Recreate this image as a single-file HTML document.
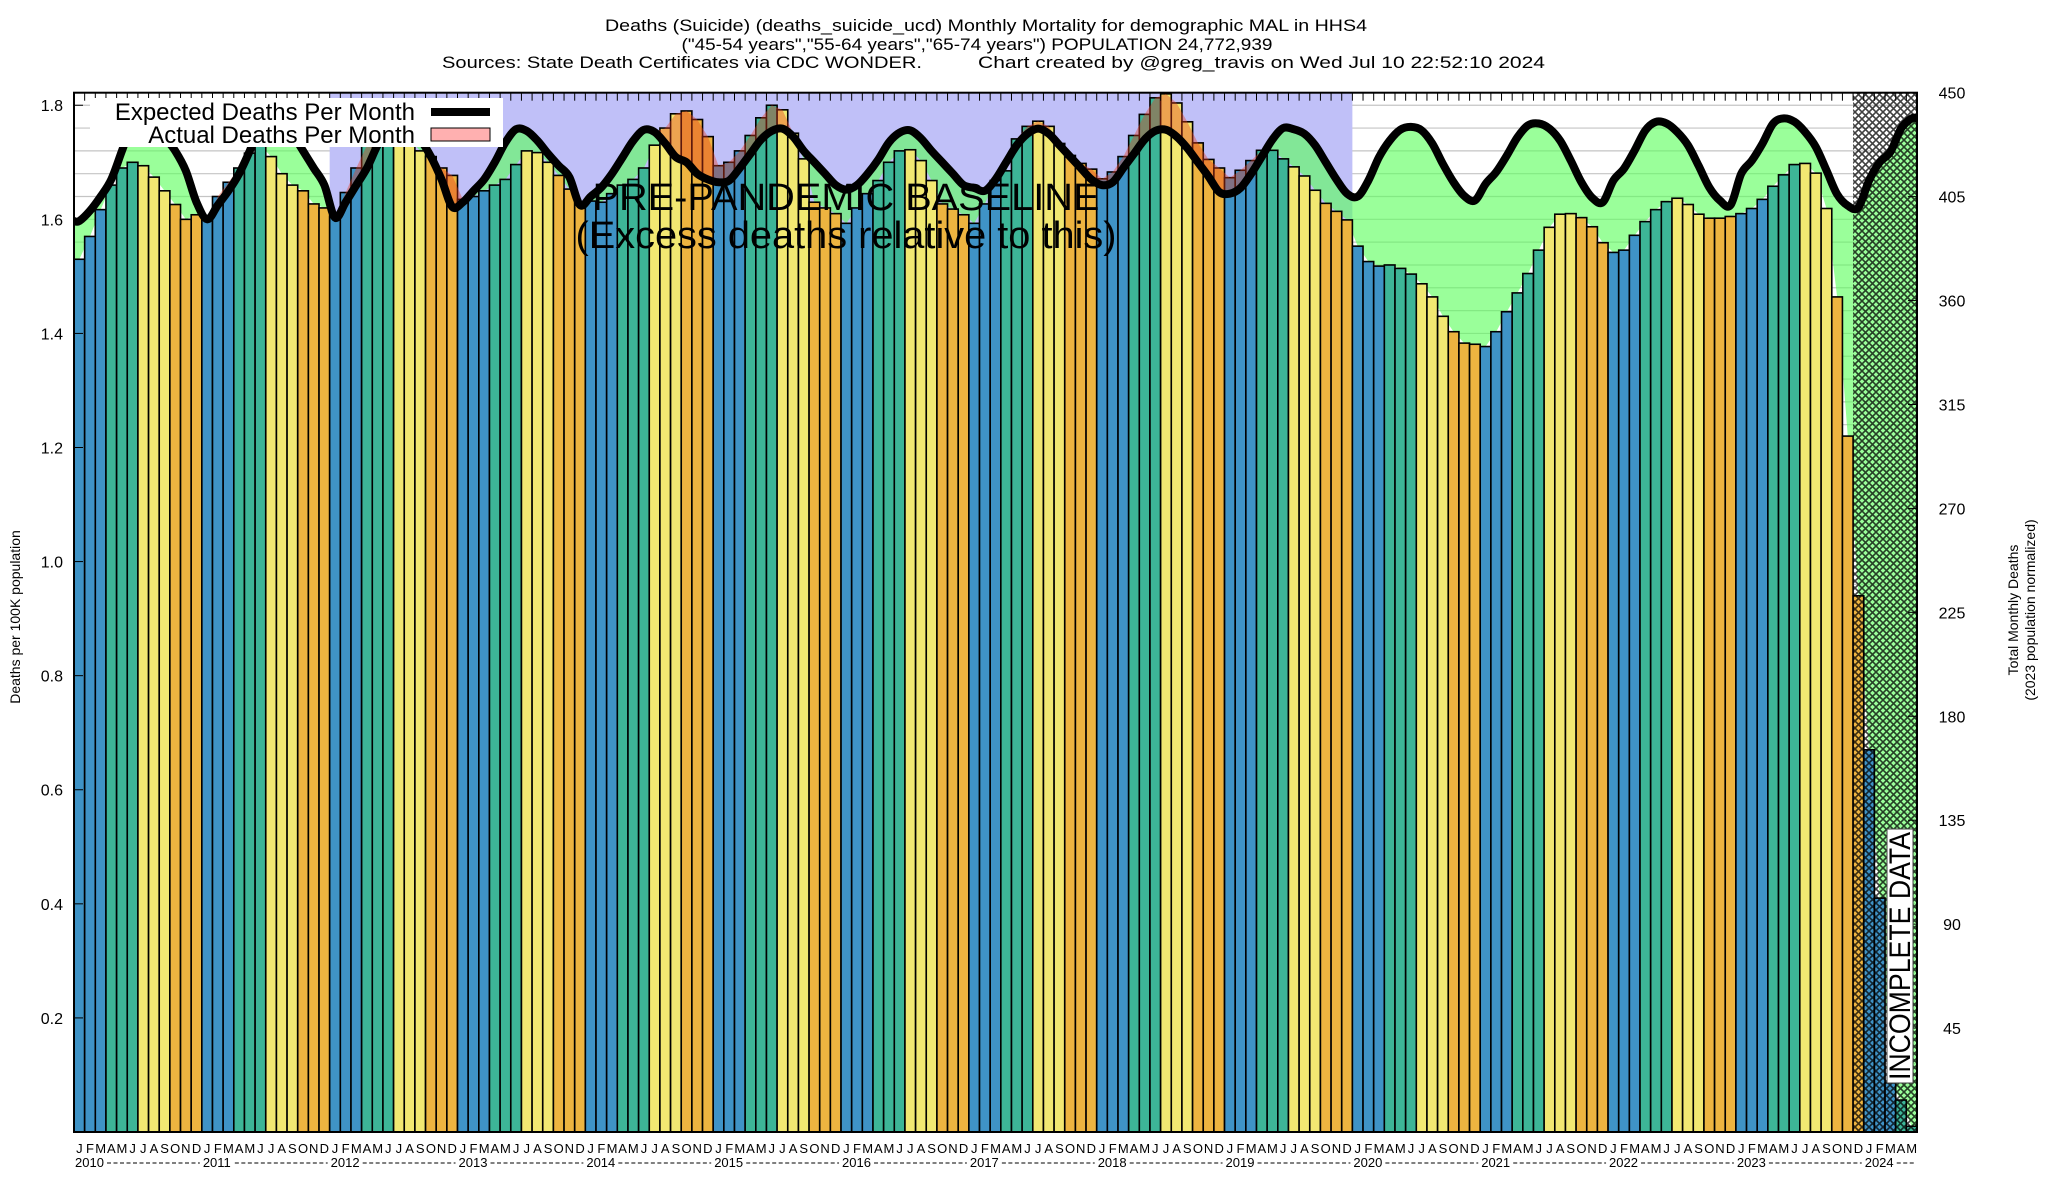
<!DOCTYPE html>
<html><head><meta charset="utf-8"><style>
html,body{margin:0;padding:0;background:#fff;}
svg{display:block;font-family:"Liberation Sans",Arial,sans-serif;}
</style></head><body>
<svg id="chart" width="2048" height="1200" viewBox="0 0 2048 1200" xmlns="http://www.w3.org/2000/svg">
<defs>
<pattern id="hatch" width="7" height="7" patternUnits="userSpaceOnUse">
<path d="M0,0 L7,7 M7,0 L0,7" stroke="#000" stroke-width="1.6"/>
</pattern>
<clipPath id="plotclip"><rect x="74" y="92.7" width="1843" height="1039.3"/></clipPath>
</defs>
<g>
<text x="986" y="31" text-anchor="middle" font-size="17" textLength="762" lengthAdjust="spacingAndGlyphs">Deaths (Suicide) (deaths_suicide_ucd) Monthly Mortality for demographic MAL in HHS4</text>
<text x="977" y="50" text-anchor="middle" font-size="17" textLength="591" lengthAdjust="spacingAndGlyphs">("45-54 years","55-64 years","65-74 years") POPULATION 24,772,939</text>
<text x="442" y="68" font-size="17" textLength="480" lengthAdjust="spacingAndGlyphs">Sources: State Death Certificates via CDC WONDER.</text>
<text x="978" y="68" font-size="17" textLength="567" lengthAdjust="spacingAndGlyphs">Chart created by @greg_travis on Wed Jul 10 22:52:10 2024</text>
</g>
<rect x="74" y="92.7" width="1843" height="1039.3" fill="#fff"/>
<g id="grid"></g>
<rect id="baseline-region" fill="#c0c0f8"/>
<g id="marks" clip-path="url(#plotclip)"></g>
<g id="axes"></g>
<g>
<rect x="90" y="98" width="413" height="49" fill="#fff"/>
<text x="415" y="120" text-anchor="end" font-size="24">Expected Deaths Per Month</text>
<line x1="431" y1="112" x2="490" y2="112" stroke="#000" stroke-width="8"/>
<text x="415" y="143" text-anchor="end" font-size="24">Actual Deaths Per Month</text>
<rect x="431" y="128" width="59" height="13" fill="#ffb0b0" stroke="#000" stroke-width="1"/>
</g>
<g>
<text x="846" y="210" text-anchor="middle" font-size="38" textLength="507" lengthAdjust="spacingAndGlyphs">PRE-PANDEMIC BASELINE</text>
<text x="846" y="248" text-anchor="middle" font-size="38" textLength="541" lengthAdjust="spacingAndGlyphs">(Excess deaths relative to this)</text>
</g>
<g>
<rect x="1887" y="829" width="26" height="254" fill="#fff" stroke="#444" stroke-width="1"/>
<text x="0" y="0" transform="translate(1910,956) rotate(-90)" text-anchor="middle" font-size="30" textLength="248" lengthAdjust="spacingAndGlyphs">INCOMPLETE DATA</text>
</g>
<text transform="translate(20,617) rotate(-90)" text-anchor="middle" font-size="14">Deaths per 100K population</text>
<text transform="translate(2018,610) rotate(-90)" text-anchor="middle" font-size="14">Total Monthly Deaths</text>
<text transform="translate(2035,610) rotate(-90)" text-anchor="middle" font-size="14">(2023 population normalized)</text>
</svg>
<script>
const years = [2010,2011,2012,2013,2014,2015,2016,2017,2018,2019,2020,2021,2022,2023,2024];
const monthLetters = ["J","F","M","A","M","J","J","A","S","O","N","D"];
const leftTicks = [0.2,0.4,0.6,0.8,1.0,1.2,1.4,1.6,1.8];
const rightTicks = [45,90,135,180,225,270,315,360,405,450];
const actual = [
1.530,1.570,1.617,1.660,1.690,1.700,1.694,1.674,1.650,1.626,1.600,1.608,
1.600,1.640,1.665,1.690,1.716,1.730,1.710,1.680,1.660,1.650,1.627,1.620,
1.605,1.647,1.690,1.730,1.745,1.750,1.750,1.740,1.720,1.710,1.690,1.677,
1.635,1.640,1.650,1.660,1.670,1.696,1.720,1.717,1.700,1.677,1.653,1.630,
1.632,1.630,1.645,1.660,1.670,1.690,1.730,1.760,1.785,1.790,1.775,1.745,
1.694,1.700,1.720,1.747,1.778,1.800,1.792,1.751,1.706,1.630,1.620,1.610,
1.593,1.620,1.645,1.668,1.700,1.720,1.722,1.703,1.668,1.627,1.618,1.608,
1.593,1.627,1.668,1.685,1.741,1.763,1.772,1.763,1.733,1.712,1.698,1.688,
1.671,1.683,1.710,1.747,1.784,1.813,1.820,1.804,1.771,1.734,1.705,1.690,
1.673,1.686,1.703,1.721,1.721,1.706,1.692,1.676,1.651,1.628,1.614,1.599,
1.553,1.526,1.518,1.520,1.514,1.504,1.487,1.464,1.430,1.403,1.383,1.381,
1.377,1.403,1.438,1.471,1.505,1.546,1.586,1.609,1.610,1.603,1.587,1.559,
1.542,1.546,1.572,1.596,1.617,1.631,1.637,1.626,1.609,1.602,1.602,1.605,
1.610,1.619,1.635,1.658,1.678,1.696,1.698,1.681,1.619,1.464,1.220,0.940,
0.670,0.410,0.086,0.056,0.010];
const expected = [
1.597,1.615,1.640,1.670,1.720,1.770,1.785,1.775,1.745,1.720,1.685,1.630,
1.600,1.625,1.650,1.680,1.720,1.765,1.785,1.775,1.750,1.720,1.690,1.660,
1.603,1.630,1.660,1.690,1.730,1.760,1.770,1.760,1.740,1.710,1.670,1.622,
1.630,1.650,1.670,1.700,1.735,1.758,1.755,1.738,1.715,1.694,1.674,1.625,
1.640,1.656,1.680,1.709,1.738,1.757,1.753,1.733,1.709,1.700,1.680,1.670,
1.665,1.668,1.690,1.715,1.740,1.755,1.759,1.745,1.720,1.700,1.680,1.660,
1.652,1.660,1.680,1.705,1.735,1.752,1.756,1.742,1.720,1.700,1.680,1.660,
1.655,1.650,1.670,1.700,1.730,1.750,1.759,1.750,1.730,1.710,1.690,1.670,
1.660,1.665,1.690,1.715,1.740,1.755,1.757,1.745,1.725,1.700,1.675,1.648,
1.645,1.655,1.680,1.710,1.740,1.760,1.758,1.750,1.730,1.700,1.670,1.645,
1.640,1.668,1.709,1.738,1.757,1.762,1.756,1.733,1.697,1.665,1.641,1.633,
1.662,1.683,1.712,1.744,1.765,1.768,1.759,1.738,1.703,1.665,1.638,1.630,
1.668,1.689,1.721,1.756,1.771,1.768,1.753,1.730,1.694,1.656,1.633,1.625,
1.680,1.703,1.733,1.768,1.777,1.771,1.753,1.727,1.686,1.644,1.624,1.621,
1.668,1.700,1.718,1.759,1.777];

const NS="http://www.w3.org/2000/svg";
const X0=74, X1=1917, Y0=92.7, Y1=1132, YMAX=1.822, RMAX=450;
const N=actual.length, slot=(X1-X0)/N;
const xL=i=>X0+i*slot, xC=i=>X0+(i+0.5)*slot;
const y=v=>Y1-v/YMAX*(Y1-Y0);
const yR=v=>Y1-v/RMAX*(Y1-Y0);
const colors=["#3f93c6","#3f93c6","#3f93c6","#3db597","#3db597","#3db597","#f2e872","#f2e872","#f2e872","#edb440","#edb440","#edb440"];
function mk(tag,attrs,parent){const e=document.createElementNS(NS,tag);for(const k in attrs)e.setAttribute(k,attrs[k]);parent.appendChild(e);return e;}

const grid=document.getElementById('grid');
for(let v=0.04;v<YMAX;v+=0.04){
  const gl=mk('line',{x1:X0,x2:X1,y1:y(v),y2:y(v),stroke:'#c4c4c4','stroke-width':1.2},grid);
  
  
}
const br=document.getElementById('baseline-region');
br.setAttribute('x',xL(24));br.setAttribute('width',xL(120)-xL(24));
br.setAttribute('y',Y0);br.setAttribute('height',Y1-Y0);

const marks=document.getElementById('marks');
let gp='M'+xL(0)+','+y(expected[0]);
for(let i=0;i<N;i++) gp+=' L'+xC(i)+','+y(expected[i]);
gp+=' L'+X1+','+y(expected[N-1])+' L'+X1+','+y(Math.min(actual[N-1],expected[N-1]));
for(let i=N-1;i>=0;i--) gp+=' L'+xC(i)+','+y(Math.min(actual[i],expected[i]));
gp+=' L'+xL(0)+','+y(Math.min(actual[0],expected[0]))+' Z';
const green=mk('path',{d:gp,fill:'#5cff5c',opacity:0.62},marks);



for(let i=0;i<N;i++){
  const b=mk('rect',{x:xL(i),y:y(actual[i]),width:slot,height:Y1-y(actual[i]),fill:colors[i%12],stroke:'#000','stroke-width':1.6},marks);
  
  
}
let rp='M'+xL(0)+','+y(Math.max(actual[0],expected[0]));
for(let i=0;i<N;i++) rp+=' L'+xC(i)+','+y(Math.max(actual[i],expected[i]));
for(let i=N-1;i>=0;i--) rp+=' L'+xC(i)+','+y(expected[i]);
rp+=' L'+xL(0)+','+y(expected[0])+' Z';
const red=mk('path',{d:rp,fill:'#e63c1e',opacity:0.4},marks);



const hz=mk('rect',{x:xL(167),y:Y0,width:X1-xL(167),height:Y1-Y0,fill:'url(#hatch)',opacity:0.75},marks);



const pts=[[X0,y(expected[0])]];
for(let i=0;i<N;i++) pts.push([xC(i),y(expected[i])]);
pts.push([X1,y(expected[N-1])]);
let lp='M'+pts[0][0]+','+pts[0][1];
for(let i=0;i<pts.length-1;i++){
  const p0=pts[Math.max(0,i-1)],p1=pts[i],p2=pts[i+1],p3=pts[Math.min(pts.length-1,i+2)];
  const c1=[p1[0]+(p2[0]-p0[0])/6,p1[1]+(p2[1]-p0[1])/6];
  const c2=[p2[0]-(p3[0]-p1[0])/6,p2[1]-(p3[1]-p1[1])/6];
  lp+=' C'+c1[0]+','+c1[1]+' '+c2[0]+','+c2[1]+' '+p2[0]+','+p2[1];
}
const line=mk('path',{d:lp,fill:'none',stroke:'#000','stroke-width':8,'stroke-linejoin':'round'},marks);



const ax=document.getElementById('axes');
const border=mk('rect',{x:X0,y:Y0,width:X1-X0,height:Y1-Y0,fill:'none',stroke:'#000','stroke-width':2},ax);


for(const t of leftTicks){
  mk('line',{x1:X0,x2:X0+9,y1:y(t),y2:y(t),stroke:'#000','stroke-width':1},ax);
  const tl=mk('text',{x:X0-11,y:y(t)+6,'text-anchor':'end','font-size':16},ax);
  tl.textContent=t.toFixed(1);
  
  
}
for(const t of rightTicks){
  mk('line',{x1:X1-9,x2:X1,y1:yR(t),y2:yR(t),stroke:'#000','stroke-width':1},ax);
  const tl=mk('text',{x:1952,y:yR(t)+6,'text-anchor':'middle','font-size':16},ax);
  tl.textContent=String(t);
  
  
}
for(let i=0;i<N;i++){
  mk('line',{x1:xL(i),x2:xL(i),y1:Y0,y2:Y0+8,stroke:'#000','stroke-width':1},ax);
  const ml=mk('text',{x:xC(i),y:1153,'text-anchor':'middle','font-size':13},ax);
  ml.textContent=monthLetters[i%12];
  
  
}
for(let k=0;k<years.length;k++){
  const i=k*12;
  const yl=mk('text',{x:xL(i)+1,y:1167,'font-size':13},ax);
  yl.textContent=String(years[k]);
  
  
  const end=Math.min(xL(i+12),X1);
  mk('line',{x1:xL(i)+33,x2:end-2,y1:1163,y2:1163,stroke:'#000','stroke-width':1,'stroke-dasharray':'4,2.5'},ax);
}
</script>
</body></html>
